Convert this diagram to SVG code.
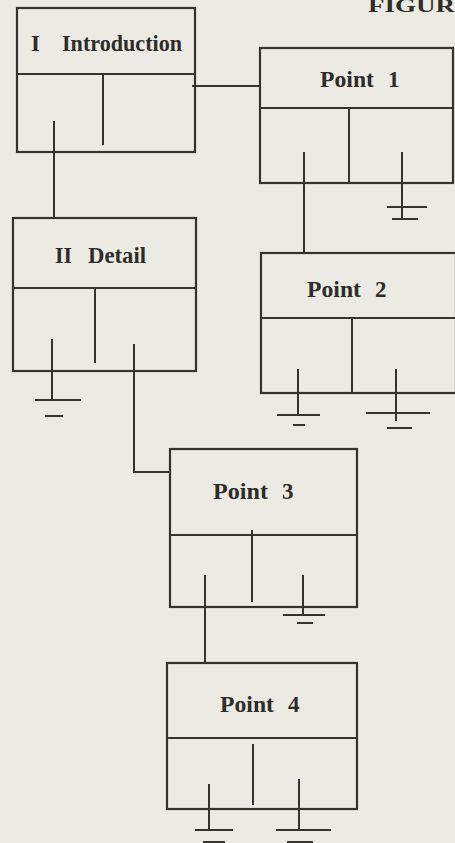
<svg xmlns="http://www.w3.org/2000/svg" width="455" height="843" viewBox="0 0 455 843">
<style>
.bg{fill:#ecebe3}
.box{fill:none;stroke:#34332f;stroke-width:2.2}
.ln{fill:none;stroke:#34332f;stroke-width:2}
.lbl{font-family:"Liberation Serif","Times New Roman",serif;font-weight:bold;font-size:23px;fill:#2e2d2a}
.fig{font-family:"Liberation Serif","Times New Roman",serif;font-weight:bold;font-size:19px;fill:#2e2d2a}
</style>
<rect class="bg" x="0" y="0" width="455" height="843"/>
<text class="fig" x="368" y="12" textLength="105" lengthAdjust="spacingAndGlyphs">FIGURE</text>

<g id="introduction">
<rect class="box" x="17" y="8" width="178" height="144"/>
<line class="ln" x1="17" y1="74" x2="195" y2="74"/>
<line class="ln" x1="103" y1="74" x2="103" y2="145"/>
<line class="ln" x1="54" y1="121" x2="54" y2="152"/>
<text class="lbl" x="31" y="51">I</text>
<text class="lbl" x="62" y="51" textLength="120" lengthAdjust="spacingAndGlyphs">Introduction</text>
</g>

<g id="detail">
<rect class="box" x="13" y="218" width="183" height="153"/>
<line class="ln" x1="13" y1="288" x2="196" y2="288"/>
<line class="ln" x1="95" y1="288" x2="95" y2="363"/>
<line class="ln" x1="52" y1="339" x2="52" y2="400"/>
<line class="ln" x1="35" y1="400" x2="81" y2="400"/>
<line class="ln" x1="45" y1="416" x2="63" y2="416"/>
<line class="ln" x1="134" y1="344" x2="134" y2="371"/>
<text class="lbl" x="55" y="263" textLength="17" lengthAdjust="spacingAndGlyphs">II</text>
<text class="lbl" x="88" y="263" textLength="58" lengthAdjust="spacingAndGlyphs">Detail</text>
</g>

<g id="point1">
<rect class="box" x="260" y="48" width="193" height="135"/>
<line class="ln" x1="260" y1="108" x2="453" y2="108"/>
<line class="ln" x1="349" y1="108" x2="349" y2="183"/>
<line class="ln" x1="304" y1="152" x2="304" y2="183"/>
<line class="ln" x1="402" y1="152" x2="402" y2="219"/>
<line class="ln" x1="387" y1="207" x2="427" y2="207"/>
<line class="ln" x1="392" y1="219" x2="418" y2="219"/>
<text class="lbl" x="320" y="87" textLength="54" lengthAdjust="spacingAndGlyphs">Point</text>
<text class="lbl" x="388" y="87">1</text>
</g>

<g id="point2">
<rect class="box" x="261" y="253" width="195" height="140"/>
<line class="ln" x1="261" y1="318" x2="456" y2="318"/>
<line class="ln" x1="352" y1="318" x2="352" y2="393"/>
<line class="ln" x1="298" y1="369" x2="298" y2="415"/>
<line class="ln" x1="277" y1="415" x2="320" y2="415"/>
<line class="ln" x1="293" y1="425" x2="305" y2="425"/>
<line class="ln" x1="396" y1="369" x2="396" y2="421"/>
<line class="ln" x1="366" y1="413" x2="430" y2="413"/>
<line class="ln" x1="387" y1="428" x2="412" y2="428"/>
<text class="lbl" x="307" y="297" textLength="54" lengthAdjust="spacingAndGlyphs">Point</text>
<text class="lbl" x="375" y="297">2</text>
</g>

<g id="point3">
<rect class="box" x="170" y="449" width="187" height="158"/>
<line class="ln" x1="170" y1="535" x2="357" y2="535"/>
<line class="ln" x1="252" y1="530" x2="252" y2="602"/>
<line class="ln" x1="205" y1="575" x2="205" y2="607"/>
<line class="ln" x1="303" y1="575" x2="303" y2="615"/>
<line class="ln" x1="283" y1="615" x2="325" y2="615"/>
<line class="ln" x1="297" y1="623" x2="313" y2="623"/>
<text class="lbl" x="213" y="499" textLength="55" lengthAdjust="spacingAndGlyphs">Point</text>
<text class="lbl" x="282" y="499">3</text>
</g>

<g id="point4">
<rect class="box" x="167" y="663" width="190" height="146"/>
<line class="ln" x1="167" y1="738" x2="357" y2="738"/>
<line class="ln" x1="253" y1="744" x2="253" y2="805"/>
<line class="ln" x1="209" y1="784" x2="209" y2="830"/>
<line class="ln" x1="195" y1="830" x2="233" y2="830"/>
<line class="ln" x1="203" y1="842" x2="225" y2="842"/>
<line class="ln" x1="299" y1="779" x2="299" y2="830"/>
<line class="ln" x1="276" y1="830" x2="331" y2="830"/>
<line class="ln" x1="287" y1="842" x2="313" y2="842"/>
<text class="lbl" x="220" y="712" textLength="54" lengthAdjust="spacingAndGlyphs">Point</text>
<text class="lbl" x="288" y="712">4</text>
</g>

<g id="connectors">
<polyline class="ln" points="192,86 260,86"/>
<polyline class="ln" points="54,152 54,218"/>
<polyline class="ln" points="304,183 304,253"/>
<polyline class="ln" points="134,371 134,472 170,472"/>
<polyline class="ln" points="205,607 205,663"/>
</g>
</svg>
